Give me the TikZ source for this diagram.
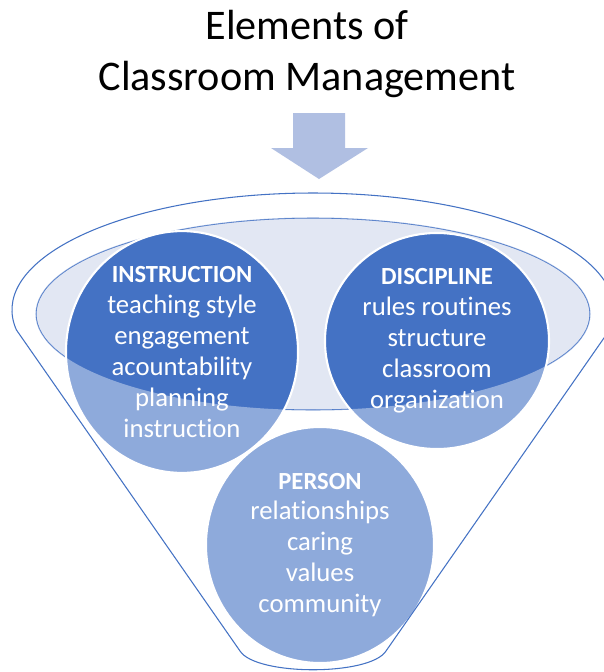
\documentclass[tikz,border=0pt]{standalone}
\usepackage{fontspec}
\setmainfont{Carlito}[Ligatures=NoCommon]
\definecolor{AccentBlue}{HTML}{4472C4}
\definecolor{MouthGrey}{HTML}{E2E7F3}
\definecolor{ArrowTint}{HTML}{B0BFE2}
\usetikzlibrary{
  shapes.geometric
}
% outline of the funnel body (rim on top, cone below)
\newcommand\funnelpath{(313,310) ++(170.2:301 and 117)
  arc[start angle=170.2, end angle=369.8, x radius=301, y radius=117]
  -- (386,651) .. controls (370,676) and (256,676) .. (240,651) -- cycle}
\newcommand\headline[1]{{\fontsize{17.5}{22}\selectfont\bfseries #1}}

\begin{document}
\begin{tikzpicture}[
  x=0.025cm, y=-0.025cm,
  rim/.style={
    draw=AccentBlue, line width=0.75pt
  },
  bubble/.style={
    ellipse, inner sep=0pt,
    fill=AccentBlue, draw=white, line width=1.5pt,
    text=white, align=center,
    font=\fontsize{19}{22}\selectfont
  },
  veil/.style={
    fill=white, fill opacity=0.4, even odd rule
  }
]
  \useasboundingbox (0,0) rectangle (604,672);
  \clip (0,0) rectangle (604,672);
  \fill[white] (0,0) rectangle (604,672);

  % title and arrow
  \node[align=center, font=\fontsize{30}{36}\selectfont] (title)
    at (307,54) {Elements of\\Classroom Management};
  \fill[ArrowTint] (293,113) -- (345,113) -- (345,148) -- (368,148)
    -- (319,179) -- (271,148) -- (293,148) -- cycle;

  % funnel mouth
  \draw[rim, fill=MouthGrey] (313,314) ellipse [x radius=277, y radius=96];

  \node[bubble, minimum width=5.8cm, minimum height=5.625cm] (instr)
    at (182,352) {\headline{INSTRUCTION}\\teaching style\\engagement\\
      acountability\\planning\\instruction};
  \node[bubble, minimum width=5.6cm, minimum height=5.4cm] (disc)
    at (437,341) {\headline{DISCIPLINE}\\rules routines\\structure\\
      classroom\\organization};
  \node[bubble, minimum width=5.7cm, minimum height=5.9cm] (person)
    at (320,545) {\headline{PERSON}\\relationships\\caring\\values\\community};

  % cone lightens what lies below the mouth
  \fill[veil] \funnelpath (313,314) ellipse [x radius=277, y radius=96];
  \draw[rim] \funnelpath;
\end{tikzpicture}
\end{document}
